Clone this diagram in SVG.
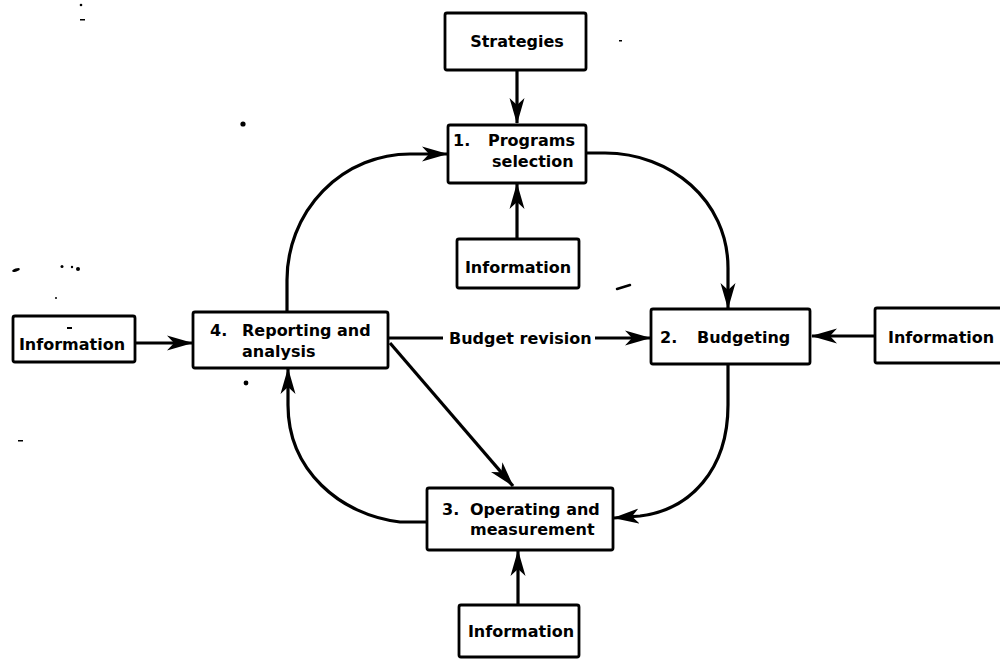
<svg xmlns="http://www.w3.org/2000/svg" width="1000" height="660" viewBox="0 0 1000 660">
<style>
.box{fill:#fff;stroke:#000;stroke-width:2.8}
.t{font-family:"DejaVu Sans","Liberation Sans",sans-serif;font-weight:bold;font-size:16px;fill:#000}
.m{text-anchor:middle}
.c{fill:none;stroke:#000;stroke-width:3.2}
.sp{fill:#000}
</style>
<defs>
<marker id="ah" markerUnits="userSpaceOnUse" markerWidth="28" markerHeight="16" refX="25" refY="8" orient="auto" viewBox="0 0 28 16">
<path d="M0,0.5 L26,8 L0,15.5 L7,8 z" fill="#000"/>
</marker>
</defs>
<rect width="1000" height="660" fill="#fff"/>
<g id="connectors">
<path class="c" d="M517,70 V123" marker-end="url(#ah)"/>
<path class="c" d="M517,239 V184" marker-end="url(#ah)"/>
<path class="c" d="M287,312 V280 A123,126 0 0 1 410,154 H447" marker-end="url(#ah)"/>
<path class="c" d="M587,153 H605 C670,153 728,200 728,268 V308" marker-end="url(#ah)"/>
<path class="c" d="M728,364 V405 C728,470 690,510 640,516 L614,518" marker-end="url(#ah)"/>
<path class="c" d="M427,522 H400 C340,515 288,470 288,405 V369" marker-end="url(#ah)"/>
<path class="c" d="M390,343 L513,486" marker-end="url(#ah)"/>
<path class="c" d="M135,343 H192" marker-end="url(#ah)"/>
<path class="c" d="M875,336 H812" marker-end="url(#ah)"/>
<path class="c" d="M518,604 V551" marker-end="url(#ah)"/>
<path class="c" d="M388,338 H443"/>
<path class="c" d="M595,338 H650" marker-end="url(#ah)"/>
<text class="t" x="449" y="344">Budget revision</text>
</g>
<g id="strategies">
<rect class="box" x="445" y="13" width="141" height="57" rx="2"/>
<text class="t m" x="517" y="47">Strategies</text>
</g>
<g id="programs">
<rect class="box" x="448" y="125" width="138" height="58" rx="2"/>
<text class="t" x="453" y="146">1.</text>
<text class="t" x="488" y="146">Programs</text>
<text class="t" x="492" y="167">selection</text>
</g>
<g id="info-top">
<rect class="box" x="457" y="239" width="122" height="49" rx="2"/>
<text class="t m" x="518" y="273">Information</text>
</g>
<g id="info-left">
<rect class="box" x="13" y="316" width="122" height="46" rx="2"/>
<text class="t m" x="72" y="350">Information</text>
</g>
<g id="reporting">
<rect class="box" x="193" y="312" width="195" height="56" rx="2"/>
<text class="t" x="210" y="336">4.</text>
<text class="t" x="242" y="336">Reporting and</text>
<text class="t" x="242" y="357">analysis</text>
</g>
<g id="budgeting">
<rect class="box" x="651" y="309" width="159" height="55" rx="2"/>
<text class="t" x="660" y="343">2.</text>
<text class="t" x="697" y="343">Budgeting</text>
</g>
<g id="info-right">
<rect class="box" x="875" y="308" width="130" height="55" rx="2"/>
<text class="t" x="888" y="343">Information</text>
</g>
<g id="operating">
<rect class="box" x="427" y="488" width="186" height="62" rx="2"/>
<text class="t" x="442" y="515">3.</text>
<text class="t" x="470" y="515">Operating and</text>
<text class="t" x="470" y="535">measurement</text>
</g>
<g id="info-bottom">
<rect class="box" x="459" y="605" width="120" height="52" rx="2"/>
<text class="t m" x="521" y="637">Information</text>
</g>
<g id="specks">
<circle class="sp" cx="81" cy="5" r="1.3"/>
<rect class="sp" x="80" y="19" width="5" height="1.5"/>
<circle class="sp" cx="243" cy="124" r="2.6"/>
<ellipse class="sp" cx="16" cy="270" rx="4" ry="1.5" transform="rotate(-20 16 270)"/>
<circle class="sp" cx="62" cy="266.5" r="1.5"/>
<circle class="sp" cx="72" cy="267" r="1.2"/>
<circle class="sp" cx="78" cy="269" r="2"/>
<circle class="sp" cx="56" cy="298" r="1"/>
<circle class="sp" cx="246" cy="383" r="2.4"/>
<rect class="sp" x="67" y="327" width="5" height="2"/>
<path d="M617,289 L630,285" stroke="#000" stroke-width="2.5" fill="none" stroke-linecap="round"/>
<rect class="sp" x="619" y="40" width="3" height="1.5"/>
<rect class="sp" x="18" y="440" width="5" height="1.5"/>
</g>
</svg>
